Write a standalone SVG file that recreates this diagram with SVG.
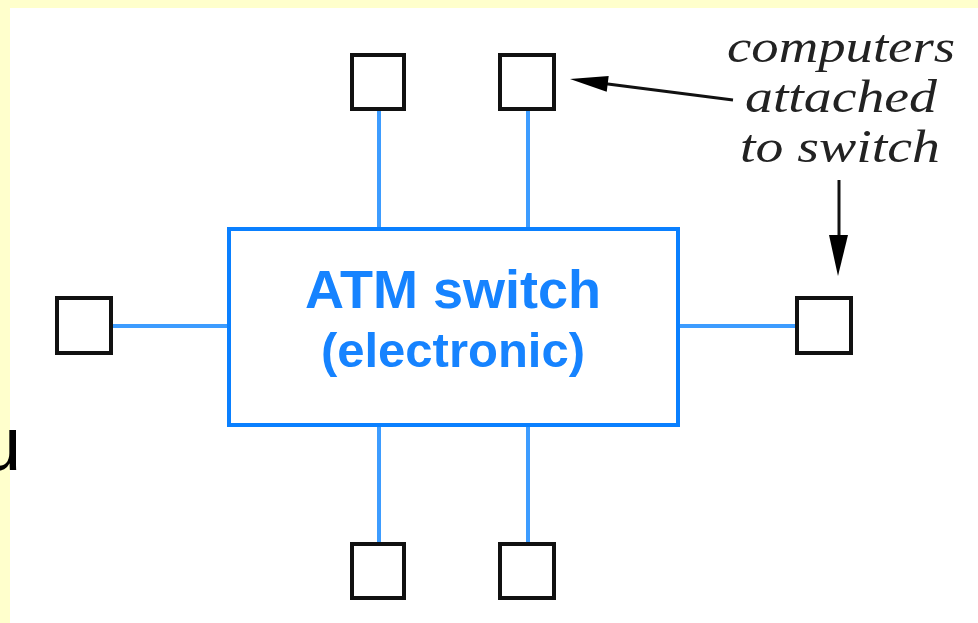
<svg xmlns="http://www.w3.org/2000/svg" width="978" height="623" viewBox="0 0 978 623">
<style>
.comp{fill:none;stroke:#111;stroke-width:4}
.link{stroke:#3d9cff;stroke-width:4;fill:none}
.ann{font-family:"Liberation Serif","Times New Roman",serif;font-style:italic;font-size:46px;fill:#222;text-anchor:middle}
.lbl{font-family:"Liberation Sans",Arial,sans-serif;font-weight:bold;fill:#1683ff;text-anchor:middle}
</style>
<rect x="0" y="0" width="978" height="623" fill="#ffffcc"/>
<rect x="10" y="8" width="968" height="615" fill="#ffffff"/>
<text x="-21" y="470" font-family="Liberation Sans,Arial,sans-serif" font-size="76" fill="#000">u</text>
<g id="connectors">
<line class="link" x1="379" y1="109" x2="379" y2="229"/>
<line class="link" x1="528" y1="109" x2="528" y2="229"/>
<line class="link" x1="379" y1="425" x2="379" y2="544"/>
<line class="link" x1="528" y1="425" x2="528" y2="544"/>
<line class="link" x1="111" y1="326" x2="229" y2="326"/>
<line class="link" x1="678" y1="326" x2="797" y2="326"/>
<line x1="733" y1="100" x2="600" y2="83" stroke="#111" stroke-width="3"/>
<polygon points="570,79 608.7,76 606.7,91.8" fill="#000"/>
<line x1="839" y1="180" x2="839" y2="240" stroke="#111" stroke-width="3"/>
<polygon points="838,276 829,235 848,235" fill="#000"/>
</g>
<g id="switch">
<rect x="229" y="229" width="449" height="196" fill="none" stroke="#0a80ff" stroke-width="4"/>
<text class="lbl" x="453" y="308" font-size="54">ATM switch</text>
<text class="lbl" x="453" y="367" font-size="49">(electronic)</text>
</g>
<g id="pc-top-1"><rect class="comp" x="352" y="55" width="52" height="54"/></g>
<g id="pc-top-2"><rect class="comp" x="500" y="55" width="54" height="54"/></g>
<g id="pc-bottom-1"><rect class="comp" x="352" y="544" width="52" height="54"/></g>
<g id="pc-bottom-2"><rect class="comp" x="500" y="544" width="54" height="54"/></g>
<g id="pc-left"><rect class="comp" x="57" y="298" width="54" height="55"/></g>
<g id="pc-right"><rect class="comp" x="797" y="298" width="54" height="55"/></g>
<g id="annotation">
<text class="ann" x="841" y="62" textLength="228" lengthAdjust="spacingAndGlyphs">computers</text>
<text class="ann" x="841" y="112" textLength="192" lengthAdjust="spacingAndGlyphs">attached</text>
<text class="ann" x="840" y="162" textLength="200" lengthAdjust="spacingAndGlyphs">to switch</text>
</g>
</svg>
